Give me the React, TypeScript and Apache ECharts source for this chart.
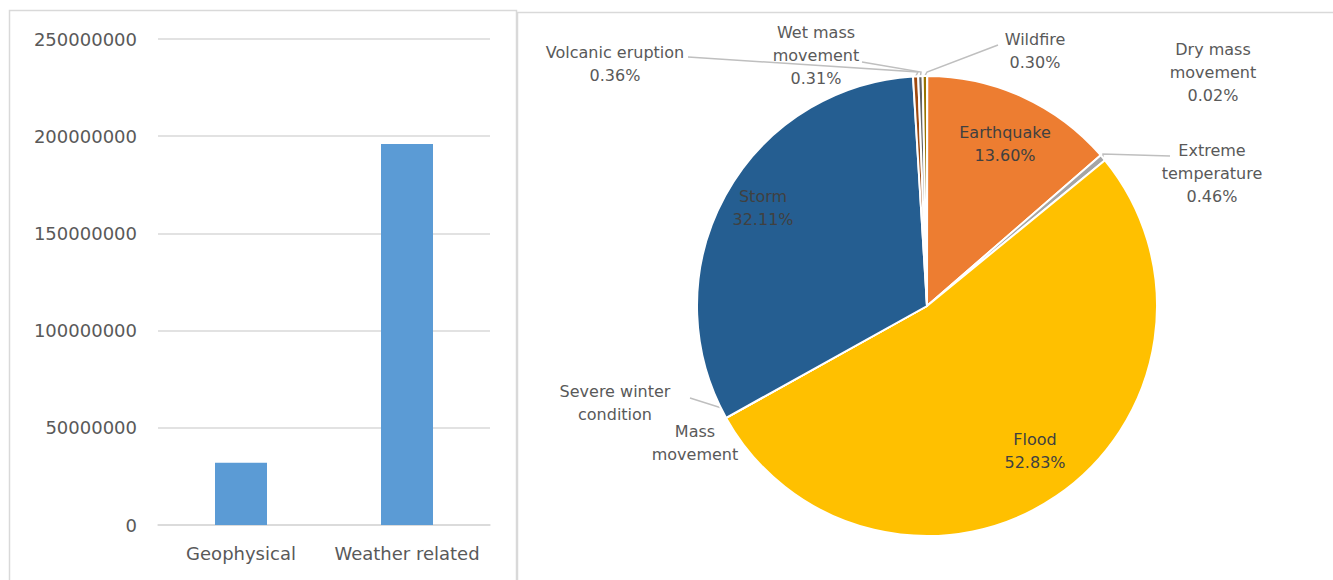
import React, { useEffect, useRef } from "react";
import * as echarts from "echarts";

const barCategories = ["Geophysical", "Weather related"];
const barValues = [32000000, 196000000];
const yTicks = { min: 0, max: 250000000, interval: 50000000 };

const pieCategories = [
  "Dry mass movement",
  "Earthquake",
  "Extreme temperature",
  "Flood",
  "Mass movement",
  "Severe winter condition",
  "Storm",
  "Volcanic eruption",
  "Wet mass movement",
  "Wildfire",
];
const piePercents = [0.02, 13.6, 0.46, 52.83, 0.003, 0.003, 32.11, 0.36, 0.31, 0.3];
const pieLabelLines = [
  "Dry mass\nmovement",
  "Earthquake",
  "Extreme\ntemperature",
  "Flood",
  "Mass\nmovement",
  "Severe winter\ncondition",
  "Storm",
  "Volcanic eruption",
  "Wet mass\nmovement",
  "Wildfire",
];
const showPercent = [true, true, true, true, false, false, true, true, true, true];

const pieColors = [
  "#5B9BD5",
  "#ED7D31",
  "#A5A5A5",
  "#FFC000",
  "#4472C4",
  "#70AD47",
  "#255E91",
  "#9E480E",
  "#636363",
  "#997300",
];

// label layout (position of label centers, and where leader lines end)
const labelCenters: [number, number][] = [
  [1213, 72],
  [1005, 144],
  [1212, 173],
  [1035, 451],
  [695, 443],
  [615, 403],
  [763, 208],
  [615, 64],
  [816, 55],
  [1035, 51],
];
const leaderEnds: ([number, number] | null)[] = [
  null,
  null,
  [1170, 156],
  null,
  null,
  [690, 398],
  null,
  [688, 57],
  [862, 62],
  [998, 45],
];
const leaderStarts: ([number, number] | null)[] = [
  null,
  null,
  [1103, 154],
  null,
  null,
  [728, 410],
  null,
  [918, 72],
  [921, 72],
  [927, 72],
];
const insideLabel = [false, true, false, true, false, false, true, false, false, false];

const FONT = "DejaVu Sans";

export default function App() {
  const ref = useRef<HTMLDivElement>(null);
  useEffect(() => {
    if (!ref.current) return;
    const chart = echarts.init(ref.current, null, { renderer: "svg" });
    const option: any = {
      animation: false,
      backgroundColor: "#ffffff",
      textStyle: { fontFamily: FONT },
      graphic: [
        {
          type: "rect",
          shape: { x: 9.5, y: 10.5, width: 507, height: 620 },
          style: { fill: "none", stroke: "#D9D9D9", lineWidth: 1.5 },
          silent: true,
        },
        {
          type: "rect",
          shape: { x: 517.5, y: 12.5, width: 900, height: 620 },
          style: { fill: "none", stroke: "#D9D9D9", lineWidth: 1.5 },
          silent: true,
        },
      ],
      grid: { left: 158, right: 1333 - 490, top: 39, bottom: 580 - 525 },
      xAxis: {
        type: "category",
        data: barCategories,
        axisLine: { show: true, lineStyle: { color: "#D9D9D9", width: 1.5 } },
        axisTick: { show: false },
        axisLabel: {
          color: "#595959",
          fontSize: 18,
          margin: 19,
          interval: 0,
          hideOverlap: false,
          fontFamily: FONT,
        },
      },
      yAxis: {
        type: "value",
        min: yTicks.min,
        max: yTicks.max,
        interval: yTicks.interval,
        axisLine: { show: false },
        axisTick: { show: false },
        splitLine: { lineStyle: { color: "#D9D9D9", width: 1.5 } },
        axisLabel: {
          color: "#595959",
          fontSize: 18,
          margin: 21,
          fontFamily: FONT,
          formatter: (v: number) => String(v),
        },
      },
      series: [
        {
          type: "bar",
          data: barValues,
          barWidth: 52,
          itemStyle: { color: "#5B9BD5" },
        },
        {
          type: "pie",
          center: [927, 306],
          radius: 230,
          startAngle: 90,
          clockwise: true,
          avoidLabelOverlap: false,
          stillShowZeroSum: true,
          minShowLabelAngle: 0,
          itemStyle: { borderColor: "#ffffff", borderWidth: 2 },
          data: pieCategories.map((name, i) => ({
            name,
            value: piePercents[i],
            itemStyle: { color: pieColors[i] },
            label: {
              color: insideLabel[i] ? "#404040" : "#595959",
            },
            labelLine: { show: leaderEnds[i] !== null },
          })),
          label: {
            show: true,
            position: "outside",
            fontFamily: FONT,
            fontSize: 16,
            lineHeight: 23,
            align: "center",
            formatter: (p: any) => {
              const i = p.dataIndex;
              const txt = pieLabelLines[i];
              return showPercent[i] ? txt + "\n" + piePercents[i].toFixed(2) + "%" : txt;
            },
          },
          labelLine: {
            show: true,
            length: 10,
            length2: 10,
            lineStyle: { color: "#BFBFBF", width: 1.5 },
          },
          labelLayout: (params: any) => {
            const i = params.dataIndex;
            const c = labelCenters[i];
            const res: any = {
              x: c[0],
              y: c[1],
              align: "center",
              verticalAlign: "middle",
            };
            const end = leaderEnds[i];
            if (end) {
              const start =
                (params.labelLinePoints && params.labelLinePoints[0]) || leaderStarts[i];
              res.labelLinePoints = [start, leaderStarts[i] || start, end];
            }
            return res;
          },
        },
      ],
    };
    chart.setOption(option);
    return () => chart.dispose();
  }, []);
  return (
    <div
      ref={ref}
      style={{ position: "absolute", left: 0, top: 0, width: 1333, height: 580 }}
    />
  );
}
